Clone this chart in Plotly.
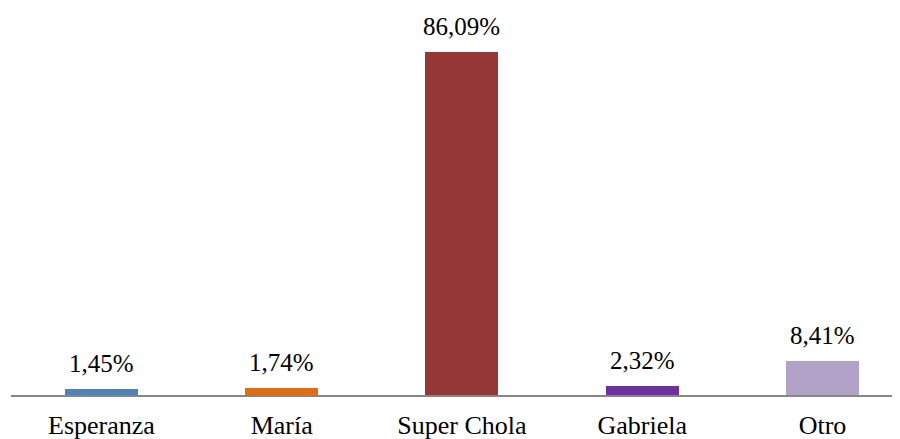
import plotly.graph_objects as go

categories = ["Esperanza", "María", "Super Chola", "Gabriela", "Otro"]
values = [1.45, 1.74, 86.09, 2.32, 8.41]
labels = ["1,45%", "1,74%", "86,09%", "2,32%", "8,41%"]
colors = ["#4F81BD", "#E46C0A", "#953735", "#7030A0", "#B3A2C7"]

# page body has an 8px default margin; size the figure to fit inside the window
W, H = 892, 431
ml, mr, mt, mb = 3, 0, 2, 44

FONT = "Liberation Serif, Times New Roman, serif"

fig = go.Figure()
fig.add_trace(go.Bar(
    x=list(range(len(categories))), y=values,
    marker=dict(color=colors, line=dict(width=0)),
    width=0.405,
    hoverinfo="skip",
))

for i, (v, t) in enumerate(zip(values, labels)):
    fig.add_annotation(x=i, y=v, text=t, showarrow=False, yanchor="bottom",
                       yshift=10, font=dict(family=FONT, size=25, color="#000000"))

fig.update_layout(
    width=W, height=H,
    margin=dict(l=ml, r=mr, t=mt, b=mb),
    paper_bgcolor="white", plot_bgcolor="white",
    showlegend=False,
    font=dict(family=FONT, size=26, color="#000000"),
    bargap=0,
)
fig.update_xaxes(
    range=[-0.502, 4.430],
    tickmode="array", tickvals=list(range(len(categories))), ticktext=categories,
    showline=True, linecolor="#868686", linewidth=2,
    showgrid=False, zeroline=False,
    ticks="outside", ticklen=6, tickcolor="rgba(0,0,0,0)",
    tickfont=dict(family=FONT, size=26, color="#000000"),
)
fig.update_yaxes(range=[0, 96.5], visible=False, showgrid=False, zeroline=False)

fig.write_html("out.html")
